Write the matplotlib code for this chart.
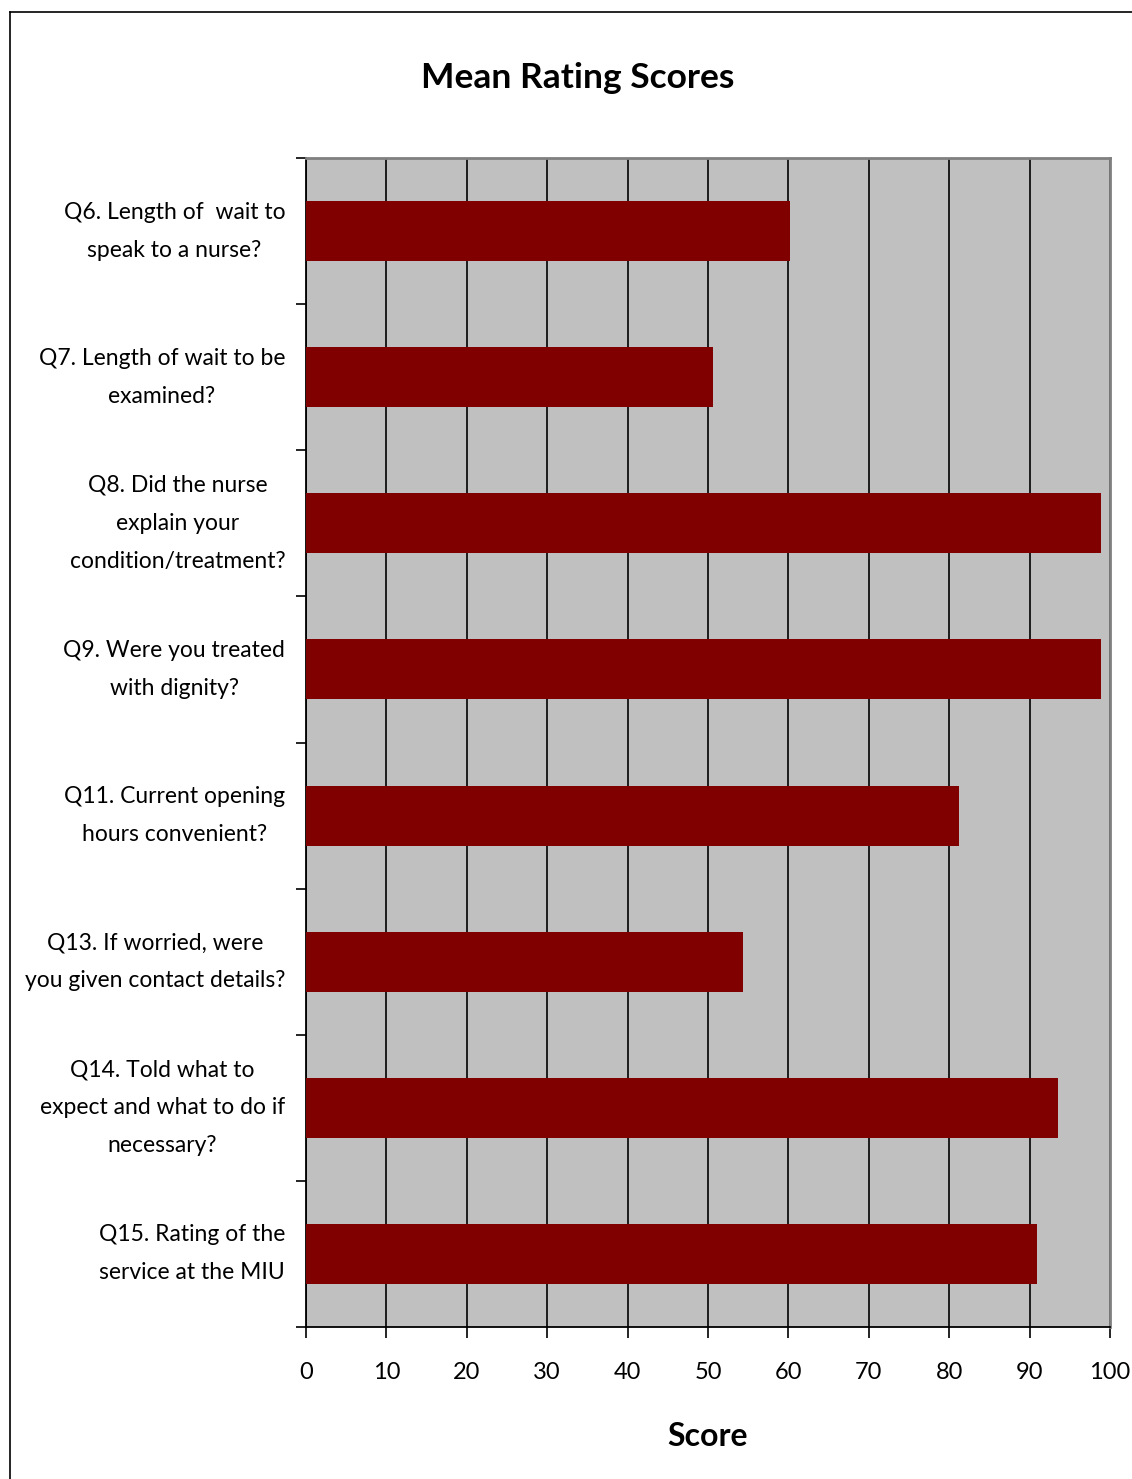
import matplotlib.pyplot as plt
from matplotlib.lines import Line2D

questions = [
    "Q6. Length of  wait to\nspeak to a nurse?",
    "Q7. Length of wait to be\nexamined?",
    "Q8. Did the nurse\nexplain your\ncondition/treatment?",
    "Q9. Were you treated\nwith dignity?",
    "Q11. Current opening\nhours convenient?",
    "Q13. If worried, were\nyou given contact details?",
    "Q14. Told what to\nexpect and what to do if\nnecessary?",
    "Q15. Rating of the\nservice at the MIU",
]
scores = [60.2, 50.6, 98.9, 98.9, 81.2, 54.4, 93.5, 90.9]
xticks = list(range(0, 101, 10))

plt.rcParams['font.family'] = ['Lato', 'DejaVu Sans']

fig = plt.figure(figsize=(11.32, 14.79), dpi=100)
W, H = 1132, 1479
ax = fig.add_axes([306 / W, 1 - 1327 / H, (1110 - 306) / W, (1327 - 158) / H])
ax.set_facecolor('#C0C0C0')

ypos = list(range(len(questions)))
ax.barh(ypos, scores, height=0.41, color='#800000', zorder=3)
ax.set_xlim(0, 100)
ax.set_ylim(len(questions) - 0.5, -0.5)

ax.set_xticks(xticks)
ax.set_xticklabels([str(t) for t in xticks], fontsize=17)
ax.tick_params(axis='x', length=8, width=1.2, pad=17, direction='out')
ax.grid(axis='x', color='black', linewidth=1.2, zorder=1)

ax.set_yticks(ypos)
ax.set_yticklabels(questions, fontsize=16.5, multialignment='center', linespacing=2.0,
                   va='center')
ax.tick_params(axis='y', which='major', length=0, pad=15)
ax.set_yticks([i - 0.5 for i in range(len(questions) + 1)], minor=True)
ax.tick_params(axis='y', which='minor', length=7, width=1.2, direction='out')

for s in ['left', 'bottom']:
    ax.spines[s].set_color('black')
    ax.spines[s].set_linewidth(1.3)
for s in ['top', 'right']:
    ax.spines[s].set_color('#808080')
    ax.spines[s].set_linewidth(2)

ax.set_xlabel("Score", fontsize=23, fontweight='bold', labelpad=28)
fig.text(578 / W, 1 - 78 / H, "Mean Rating Scores", fontsize=25.5, fontweight='bold',
         ha='center', va='center')

# outer frame
fig.add_artist(Line2D([10 / W, 10 / W], [0, 1 - 12 / H], color='black', linewidth=1.2,
                      transform=fig.transFigure))
fig.add_artist(Line2D([10 / W, 1], [1 - 12 / H, 1 - 12 / H], color='black', linewidth=1.2,
                      transform=fig.transFigure))

fig.savefig('out.png', dpi=100)
